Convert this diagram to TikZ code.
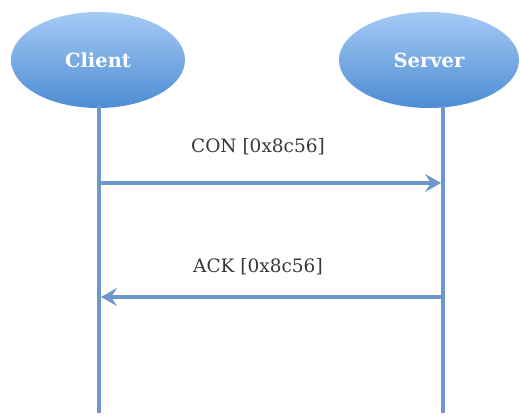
\documentclass[tikz,border=0pt]{standalone}
\usepackage{fontspec}
\setmainfont{DejaVu Serif}
\usetikzlibrary{positioning, shapes.geometric, arrows.meta}
\definecolor{lineblue}{RGB}{110,152,203}
\definecolor{topblue}{RGB}{165,202,245}
\definecolor{botblue}{RGB}{78,140,212}
\definecolor{txtgray}{RGB}{55,55,55}
\tikzset{
  actor/.style={ellipse, minimum width=174, minimum height=96, inner sep=0,
    draw=none, top color=topblue, bottom color=botblue, text=white,
    font=\fontsize{19.5}{22}\selectfont\bfseries},
  lifeline/.style={line width=3.6, color=lineblue},
  msg/.style={line width=3.6, color=lineblue,
    -{Stealth[length=16, width=18, inset=6]}},
  msglabel/.style={text=txtgray, font=\fontsize{18.5}{21}\selectfont}
}
\begin{document}
\begin{tikzpicture}[x=1pt, y=-1pt]
\useasboundingbox (0,0) rectangle (520,417);

\node [actor] (client) at (98,60) {Client};
\node [actor, minimum width=180] (server) at (429,60) {Server};

\coordinate (clienttop) at (99,106);
\coordinate (clientend) at (99,413);
\coordinate (servertop) at (443,106);
\coordinate (serverend) at (443,413);

\draw [lifeline] (clienttop) -- (clientend);
\draw [lifeline] (servertop) -- (serverend);

\coordinate (conA) at (99,183);
\coordinate (conB) at (441,183);
\coordinate (ackA) at (443,297);
\coordinate (ackB) at (101,297);

\draw [msg] (conA) -- (conB);
\draw [msg] (ackA) -- (ackB);

\node [msglabel] (con) at (258,147) {CON [0x8c56]};
\node [msglabel] (ack) at (258,267) {ACK [0x8c56]};

\end{tikzpicture}
\end{document}
